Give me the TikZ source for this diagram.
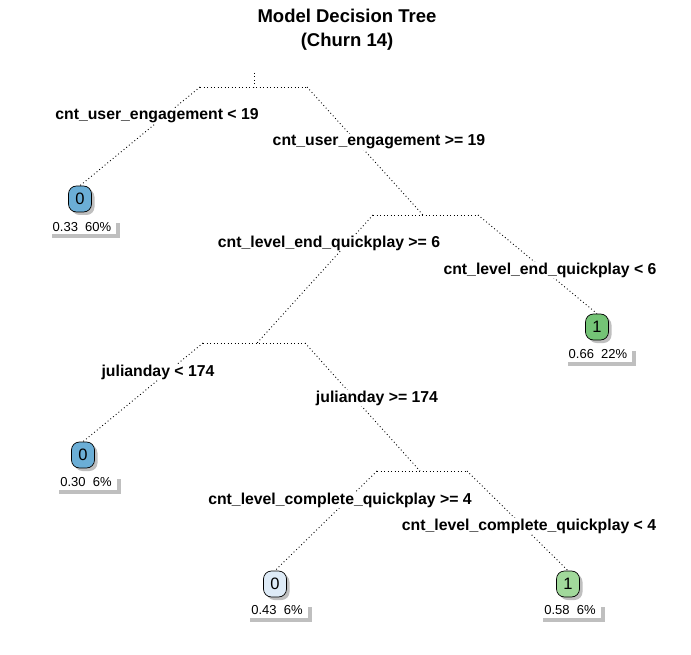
\documentclass[tikz,border=0pt]{standalone}
\usepackage{fontspec}
\setmainfont{Liberation Sans}
\usetikzlibrary{shadows}

\definecolor{leafblue}{HTML}{6BAED6}
\definecolor{leafpale}{HTML}{DEEBF7}
\definecolor{leafgreen}{HTML}{74C476}
\definecolor{leaflight}{HTML}{A1D99B}

\tikzset{
	leaf/.style={draw,rectangle,rounded corners=8pt,minimum width=23pt,minimum height=26pt,inner sep=0pt,line width=0.7pt,font=\fontsize{16.5}{16.5}\selectfont,drop shadow={shadow xshift=3pt,shadow yshift=-3pt,fill=black!25,opacity=1}},
	info/.style={fill=white,inner xsep=5pt,inner ysep=0pt,minimum height=15pt,font=\fontsize{13}{13}\selectfont,drop shadow={shadow xshift=4pt,shadow yshift=-4pt,fill=black!25,opacity=1}},
	split/.style={fill=white,inner sep=1pt,font=\fontsize{15.8}{16}\selectfont\bfseries},
	branch/.style={line width=0.9pt,dash pattern=on 0.9pt off 2.6pt}
}

\begin{document}
\begin{tikzpicture}[x=1pt,y=-1pt]
	\useasboundingbox (0,0) rectangle (691,655);
	\node[font=\fontsize{18.5}{24}\selectfont\bfseries,align=center] (title) at (347,30) {Model Decision Tree\\(Churn 14)};

	% bars of the splits
	\coordinate (top) at (254,73);
	\coordinate (s1) at (254,87);
	\coordinate (s1l) at (200,87);
	\coordinate (s1r) at (307,87);
	\coordinate (s2) at (423,215);
	\coordinate (s2l) at (373,215);
	\coordinate (s2r) at (478,215);
	\coordinate (s3) at (257,343);
	\coordinate (s3l) at (203,343);
	\coordinate (s3r) at (305,343);
	\coordinate (s4) at (420,471);
	\coordinate (s4l) at (377,471);
	\coordinate (s4r) at (467,471);

	% leaves
	\node[leaf,fill=leafblue] (l1) at (80,199) {0};
	\node[leaf,fill=leafgreen] (l2) at (597,327) {1};
	\node[leaf,fill=leafblue] (l3) at (83,455) {0};
	\node[leaf,fill=leafpale] (l4) at (275,584) {0};
	\node[leaf,fill=leaflight] (l5) at (568,584) {1};
	\node[info] (i1) at (82,227) {0.33\ \ 60\%};
	\node[info] (i2) at (598,354) {0.66\ \ 22\%};
	\node[info] (i3) at (86,482) {0.30\ \ 6\%};
	\node[info] (i4) at (277,610) {0.43\ \ 6\%};
	\node[info] (i5) at (570,610) {0.58\ \ 6\%};

	\draw[branch] (top) -- (s1);
	\draw[branch] (s1l) -- (s1r);
	\draw[branch] (s1l) -- (l1.north);
	\draw[branch] (s1r) -- (s2);
	\draw[branch] (s2l) -- (s2r);
	\draw[branch] (s2r) -- (l2.north);
	\draw[branch] (s2l) -- (s3);
	\draw[branch] (s3l) -- (s3r);
	\draw[branch] (s3l) -- (l3.north);
	\draw[branch] (s3r) -- (s4);
	\draw[branch] (s4l) -- (s4r);
	\draw[branch] (s4l) -- (l4.north);
	\draw[branch] (s4r) -- (l5.north);

	% split labels
	\node[split] (e1l) at (157,116) {cnt\_user\_engagement < 19};
	\node[split] (e1r) at (379,142) {cnt\_user\_engagement >= 19};
	\node[split] (e2l) at (329,243) {cnt\_level\_end\_quickplay >= 6};
	\node[split] (e2r) at (550,270) {cnt\_level\_end\_quickplay < 6};
	\node[split] (e3l) at (158,372) {julianday < 174};
	\node[split] (e3r) at (377,398) {julianday >= 174};
	\node[split] (e4l) at (340,500) {cnt\_level\_complete\_quickplay >= 4};
	\node[split] (e4r) at (529,526) {cnt\_level\_complete\_quickplay < 4};
\end{tikzpicture}
\end{document}
